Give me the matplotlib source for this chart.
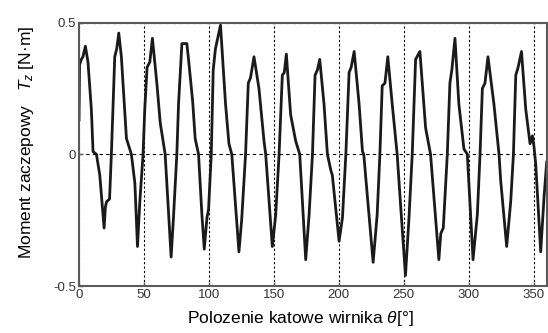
# plot.py
# Cogging torque vs. rotor angular position, redrawn from the reference figure.

import matplotlib
matplotlib.use("Agg")
import matplotlib.pyplot as plt

# ==== DATA ====
theta_deg = [
    0.0, 0.4, 1.8, 3.0, 4.9, 6.9, 9.5, 10.8, 13.4, 16.0,
    19.3, 20.3, 21.2, 23.5, 24.9, 26.2, 27.5, 29.0, 30.6, 32.6,
    36.5, 40.3, 43.0, 45.0, 46.8, 49.3, 50.6, 52.4, 54.5, 56.5,
    59.9, 62.5, 66.3, 70.9, 72.7, 75.3, 76.6, 79.2, 83.0, 84.3,
    87.5, 89.4, 92.0, 94.6, 96.4, 98.5, 99.7, 101.8, 103.3, 105.0,
    108.9, 112.8, 115.4, 117.6, 123.1, 125.2, 128.2, 130.3, 132.0, 134.7,
    138.5, 142.4, 143.7, 148.8, 151.4, 154.0, 156.5, 158.0, 159.6, 162.9,
    166.8, 169.9, 174.5, 177.1, 179.7, 181.7, 183.5, 185.3, 188.6, 191.2,
    193.8, 195.0, 200.2, 202.8, 205.4, 207.9, 209.5, 211.8, 215.6, 218.2,
    219.2, 221.8, 226.4, 229.5, 231.6, 233.4, 235.5, 237.7, 241.1, 244.9,
    247.5, 251.3, 253.9, 256.5, 259.1, 262.4, 266.8, 270.6, 277.0, 278.5,
    280.4, 283.5, 285.5, 287.0, 289.4, 292.4, 296.3, 298.9, 303.3, 306.6,
    308.7, 310.5, 312.5, 314.8, 319.4, 323.3, 324.6, 329.2, 332.3, 334.4,
    336.2, 338.0, 340.6, 343.9, 347.2, 349.0, 350.2, 351.6, 355.4, 358.0,
    360.0,
]
torque_nm = [
    0.13, 0.34, 0.36, 0.37, 0.41, 0.35, 0.17, 0.01, 0.00, -0.08,
    -0.28, -0.20, -0.18, -0.17, 0.00, 0.19, 0.37, 0.40, 0.46, 0.37,
    0.06, 0.00, -0.11, -0.35, -0.18, 0.00, 0.17, 0.33, 0.35, 0.44,
    0.27, 0.12, 0.00, -0.39, -0.24, 0.00, 0.19, 0.42, 0.42, 0.36,
    0.20, 0.06, 0.00, -0.23, -0.36, -0.24, -0.21, 0.00, 0.32, 0.40,
    0.49, 0.19, 0.04, 0.00, -0.37, -0.25, 0.00, 0.27, 0.29, 0.37,
    0.25, 0.05, 0.00, -0.35, -0.23, 0.00, 0.30, 0.31, 0.38, 0.15,
    0.05, 0.00, -0.40, -0.23, 0.00, 0.30, 0.32, 0.36, 0.19, 0.00,
    -0.06, -0.08, -0.33, -0.24, 0.00, 0.31, 0.33, 0.39, 0.19, 0.01,
    0.00, -0.15, -0.41, -0.23, 0.00, 0.26, 0.27, 0.37, 0.19, 0.00,
    -0.19, -0.46, -0.25, 0.00, 0.36, 0.39, 0.10, 0.00, -0.40, -0.30,
    -0.28, 0.00, 0.27, 0.32, 0.44, 0.19, 0.02, 0.00, -0.40, -0.23,
    0.00, 0.25, 0.27, 0.37, 0.19, 0.00, -0.10, -0.35, -0.18, 0.00,
    0.30, 0.33, 0.39, 0.17, 0.04, 0.07, 0.03, -0.04, -0.37, -0.16,
    -0.03,
]

x_ticks = [0, 50, 100, 150, 200, 250, 300, 350]
y_ticks = [-0.5, 0, 0.5]
y_tick_labels = ["-0.5", "0", "0.5"]

# ==== STYLE ====
plt.rcParams["font.family"] = ["Liberation Sans", "DejaVu Sans"]
plt.rcParams["mathtext.fontset"] = "custom"
plt.rcParams["mathtext.rm"] = "Liberation Sans"
plt.rcParams["mathtext.it"] = "Liberation Sans:italic"

FRAME = "#5a5a5a"

# ==== PLOT ====
fig = plt.figure(figsize=(5.48, 3.33), dpi=100)
ax = fig.add_axes([0.1442, 0.1411, 0.8534, 0.7913])

ax.plot(theta_deg, torque_nm, color="#1a1a1a", linewidth=2.0,
        solid_joinstyle="round")

ax.set_xlim(0, 360)
ax.set_ylim(-0.5, 0.5)
ax.set_xticks(x_ticks)
ax.set_yticks(y_ticks)
ax.set_yticklabels(y_tick_labels)

# dotted verticals, dashed zero line
ax.xaxis.grid(True, color="black", linestyle=(0, (2, 2)), linewidth=0.8)
ax.yaxis.grid(True, color="black", linestyle=(0, (3, 3)), linewidth=0.8)
ax.tick_params(direction="in", length=3, width=1, color=FRAME,
               labelsize=9.5, labelcolor="#333333", pad=2)
for side in ax.spines.values():
    side.set_color(FRAME)
    side.set_linewidth(1.5)

# axis labels placed as in the reference
fig.text(300 / 548, 1 - 318 / 333, r"Polozenie katowe wirnika $\theta$[°]",
         ha="center", va="center", fontsize=12.5)
fig.text(27 / 548, 1 - 142 / 333, r"Moment zaczepowy   $T_z$ [N·m]",
         ha="center", va="center", rotation=90, fontsize=12.5)

fig.savefig("out.png", dpi=100)
